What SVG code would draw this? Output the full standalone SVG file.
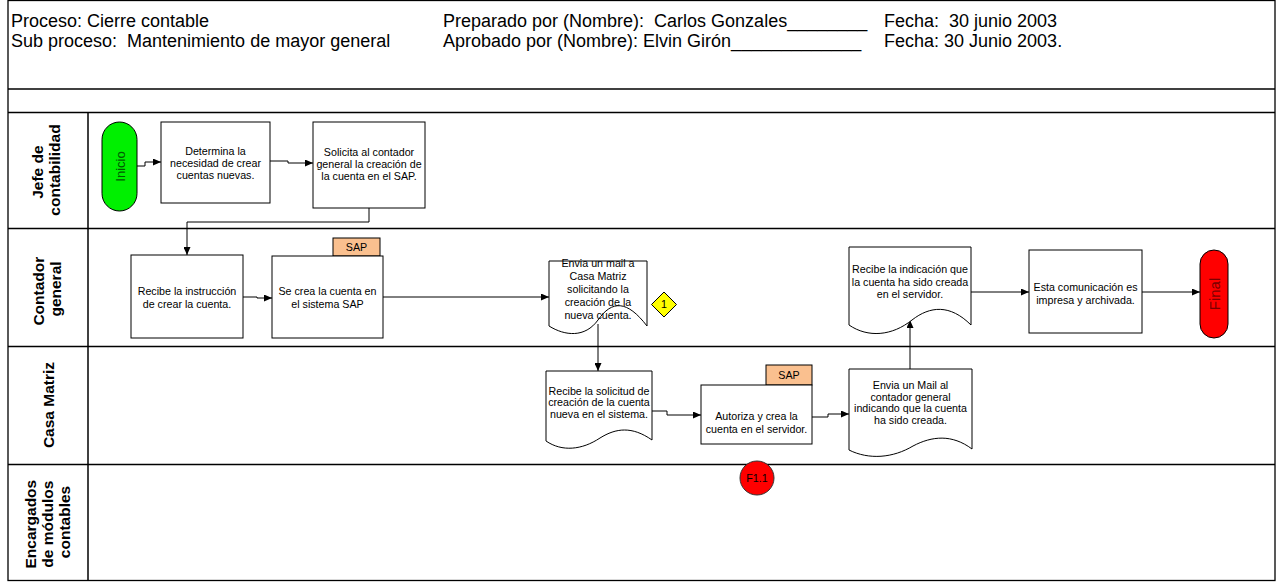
<svg xmlns="http://www.w3.org/2000/svg" width="1278" height="583" viewBox="0 0 1278 583">
  <defs>
    <marker id="arrow" markerUnits="userSpaceOnUse" markerWidth="9" markerHeight="7" refX="8" refY="3.5" orient="auto">
      <path d="M0,0 L8,3.5 L0,7 z" fill="#000"/>
    </marker>
    <style>
      .frame { fill: none; stroke: #000; stroke-width: 1.3; }
      .lane { stroke: #000; stroke-width: 1.5; }
      .hdr { font-family: "Liberation Sans", Arial, sans-serif; font-size: 18px; fill: #000; white-space: pre; }
      .lbl { font-family: "Liberation Sans", Arial, sans-serif; font-size: 15.5px; font-weight: bold; fill: #000; }
      .box { fill: #fff; stroke: #000; stroke-width: 1; }
      .tag { fill: #FAC08F; stroke: #000; stroke-width: 1; }
      .t { font-family: "Liberation Sans", Arial, sans-serif; font-size: 10.7px; fill: #000; text-anchor: middle; }
      .conn { fill: none; stroke: #000; stroke-width: 1; marker-end: url(#arrow); }
    </style>
  </defs>

  <rect width="1278" height="583" fill="#fff"/>

  <!-- header block -->
  <g id="header">
    <rect class="frame" x="8" y="0.5" width="1267" height="580"/>
    <line class="lane" x1="8" y1="89" x2="1275" y2="89"/>
    <text class="hdr" x="11" y="26.5">Proceso: Cierre contable</text>
    <text class="hdr" x="11" y="47">Sub proceso:  Mantenimiento de mayor general</text>
    <text class="hdr" x="443" y="26.5">Preparado por (Nombre):  Carlos Gonzales________</text>
    <text class="hdr" x="443" y="47">Aprobado por (Nombre): Elvin Girón_____________</text>
    <text class="hdr" x="884" y="26.5">Fecha:  30 junio 2003</text>
    <text class="hdr" x="884" y="47">Fecha: 30 Junio 2003.</text>
  </g>

  <!-- swimlanes -->
  <g id="lanes">
    <line class="lane" x1="8" y1="112.5" x2="1275" y2="112.5"/>
    <line class="lane" x1="8" y1="228.5" x2="1275" y2="228.5"/>
    <line class="lane" x1="8" y1="346.5" x2="1275" y2="346.5"/>
    <line class="lane" x1="8" y1="464.5" x2="1275" y2="464.5"/>
    <line class="lane" x1="88" y1="112.5" x2="88" y2="580.5"/>
    <text class="lbl" transform="translate(46,170) rotate(-90)" text-anchor="middle">
      <tspan x="0" dy="-3">Jefe de</tspan>
      <tspan x="0" dy="16.5">contabilidad</tspan>
    </text>
    <text class="lbl" transform="translate(47,289) rotate(-90)" text-anchor="middle">
      <tspan x="0" dy="-3">Contador</tspan>
      <tspan x="0" dy="17">general</tspan>
    </text>
    <text class="lbl" transform="translate(48,405) rotate(-90)" text-anchor="middle" dominant-baseline="central">Casa Matriz</text>
    <text class="lbl" transform="translate(47,522) rotate(-90)" text-anchor="middle">
      <tspan x="0" dy="-11.5">Encargados</tspan>
      <tspan x="0" dy="17">de módulos</tspan>
      <tspan x="0" dy="17">contables</tspan>
    </text>
  </g>

  <!-- connectors -->
  <g id="connectors">
    <path class="conn" d="M137,166 H145 V162 H161"/>
    <path class="conn" d="M270,161 H288 V163 H313"/>
    <path class="conn" d="M369,208 V222 H187 V255"/>
    <path class="conn" d="M243,297 H257 V298 H272"/>
    <path class="conn" d="M383,297 H549"/>
    <path class="conn" d="M598,324 V371"/>
    <path class="conn" d="M652,411 H667 V415 H701"/>
    <path class="conn" d="M812,417 H828 V414 H849"/>
    <path class="conn" d="M910,369 V320"/>
    <path class="conn" d="M971,292 H1029"/>
    <path class="conn" d="M1142,292 H1200"/>
  </g>

  <!-- Jefe de contabilidad -->
  <g id="inicio">
    <rect x="102" y="122" width="35" height="89" rx="17.5" fill="#00F000" stroke="#000" stroke-width="1"/>
    <text transform="translate(120,166.5) rotate(-90)" text-anchor="middle" dominant-baseline="central" font-family="Liberation Sans, Arial, sans-serif" font-size="13px" fill="#005A00">Inicio</text>
  </g>
  <g id="determina">
    <rect class="box" x="161" y="122" width="109" height="81"/>
    <text class="t" x="215.5" y="155">Determina la<tspan x="215.5" dy="12">necesidad de crear</tspan><tspan x="215.5" dy="12">cuentas nuevas.</tspan></text>
  </g>
  <g id="solicita">
    <rect class="box" x="313" y="122" width="112" height="86"/>
    <text class="t" x="369" y="156">Solicita al contador<tspan x="369" dy="12">general la creación de</tspan><tspan x="369" dy="12">la cuenta en el SAP.</tspan></text>
  </g>

  <!-- Contador general -->
  <g id="recibe-instruccion">
    <rect class="box" x="131" y="255" width="112" height="83"/>
    <text class="t" x="187" y="295">Recibe la instrucción<tspan x="187" dy="13">de crear la cuenta.</tspan></text>
  </g>
  <g id="se-crea">
    <rect class="tag" x="333" y="238" width="47" height="18"/>
    <text class="t" x="356.5" y="251">SAP</text>
    <rect class="box" x="272" y="256" width="111" height="82"/>
    <text class="t" x="327.5" y="295">Se crea la cuenta en<tspan x="327.5" dy="13">el sistema SAP</tspan></text>
  </g>
  <g id="envia-mail-casa">
    <path class="box" d="M549,261 H647 V326 C627,300 612,300 598,320 C585,338 565,336 549,326 Z"/>
    <text class="t" x="598" y="267">Envia un mail a<tspan x="598" dy="13">Casa Matriz</tspan><tspan x="598" dy="13">solicitando la</tspan><tspan x="598" dy="13">creación de la</tspan><tspan x="598" dy="12.5">nueva cuenta.</tspan></text>
  </g>
  <g id="ref-1">
    <path d="M664,292 L676.5,304.5 L664,317 L651.5,304.5 Z" fill="#FFFF00" stroke="#000" stroke-width="1"/>
    <text class="t" x="664" y="308" font-size="9.5px">1</text>
  </g>
  <g id="recibe-indicacion">
    <path class="box" d="M849,247 H971 V325 C950,304 930,306 912,320 C892,336 868,338 849,325 Z"/>
    <text class="t" x="910" y="273">Recibe la indicación que<tspan x="910" dy="12.5">la cuenta ha sido creada</tspan><tspan x="910" dy="12.5">en el servidor.</tspan></text>
  </g>
  <g id="esta-comunicacion">
    <rect class="box" x="1029" y="250" width="113" height="83"/>
    <text class="t" x="1085.5" y="291">Esta comunicación es<tspan x="1085.5" dy="12.5">impresa y archivada.</tspan></text>
  </g>
  <g id="final">
    <rect x="1200" y="250" width="28" height="88" rx="14" fill="#FF0000" stroke="#000" stroke-width="1"/>
    <text transform="translate(1214,294) rotate(-90)" text-anchor="middle" dominant-baseline="central" font-family="Liberation Sans, Arial, sans-serif" font-size="15px" fill="#7A0000">Final</text>
  </g>

  <!-- Casa Matriz -->
  <g id="recibe-solicitud">
    <path class="box" d="M546,371 H652 V440 C632,426 616,428 600,438 C582,450 562,452 546,441 Z"/>
    <text class="t" x="599" y="394.5">Recibe la solicitud de<tspan x="599" dy="11.5">creación de la cuenta</tspan><tspan x="599" dy="11.5">nueva en el sistema.</tspan></text>
  </g>
  <g id="autoriza">
    <rect class="tag" x="766" y="365" width="46" height="20"/>
    <text class="t" x="789" y="379">SAP</text>
    <rect class="box" x="701" y="385" width="111" height="59"/>
    <text class="t" x="756.5" y="420">Autoriza y crea la<tspan x="756.5" dy="12.5">cuenta en el servidor.</tspan></text>
  </g>
  <g id="envia-mail-contador">
    <path class="box" d="M849,369 H972 V449 C952,434 932,436 913,446 C893,458 869,460 849,450 Z"/>
    <text class="t" x="910.5" y="389">Envia un Mail al<tspan x="910.5" dy="11.5">contador general</tspan><tspan x="910.5" dy="11.5">indicando que la cuenta</tspan><tspan x="910.5" dy="11.5">ha sido creada.</tspan></text>
  </g>

  <!-- Encargados de módulos contables -->
  <g id="f1-1">
    <circle cx="757" cy="478" r="17" fill="#FF0000" stroke="#333" stroke-width="1"/>
    <text class="t" x="757" y="481.5" font-size="10px" fill="#400000">F1.1</text>
  </g>
</svg>
